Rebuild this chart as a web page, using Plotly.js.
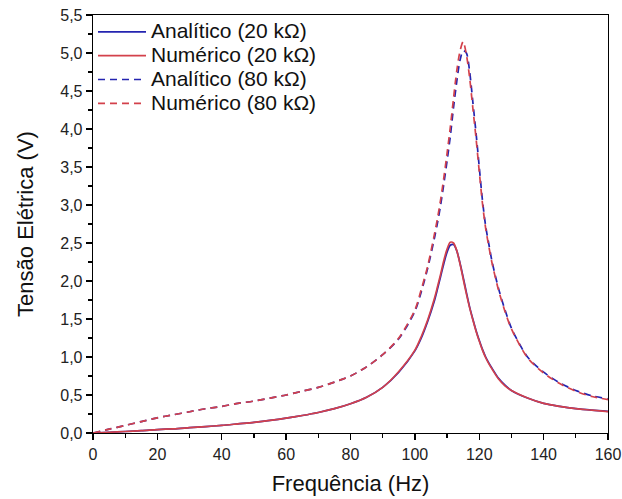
<!DOCTYPE html>
<html><head><meta charset="utf-8">
<script src="https://cdn.plot.ly/plotly-3.0.1.min.js"></script>
<style>html,body{margin:0;padding:0;background:#fff}#c{width:622px;height:499px}</style>
</head><body><div id="c"></div>
<script>
const freq = [0,5,10,15,20,25,30,35,40,45,50,55,60,65,70,75,80,85,90,95,100,102,104,106,107,108,109,110,111,112,113,114,115,116,117,118,119,120,121,122,123,124,126,128,130,135,140,145,150,155,160];
const analitico20 = [0,0.01,0.02,0.03,0.045,0.055,0.07,0.085,0.10,0.12,0.14,0.165,0.195,0.23,0.27,0.32,0.385,0.47,0.60,0.80,1.08,1.25,1.47,1.73,1.89,2.06,2.23,2.38,2.47,2.48,2.40,2.24,2.05,1.85,1.66,1.50,1.35,1.22,1.10,1.00,0.92,0.85,0.72,0.63,0.56,0.46,0.39,0.35,0.32,0.30,0.285];
const numerico20 = [0,0.01,0.02,0.03,0.045,0.055,0.07,0.085,0.10,0.12,0.14,0.165,0.195,0.23,0.27,0.32,0.385,0.47,0.60,0.81,1.09,1.27,1.49,1.76,1.92,2.09,2.27,2.42,2.51,2.50,2.40,2.23,2.03,1.83,1.65,1.49,1.34,1.21,1.09,0.99,0.91,0.84,0.71,0.62,0.56,0.46,0.39,0.35,0.32,0.30,0.28];
const analitico80 = [0,0.05,0.10,0.15,0.20,0.24,0.28,0.32,0.35,0.39,0.42,0.46,0.50,0.55,0.60,0.67,0.75,0.87,1.03,1.24,1.60,1.86,2.17,2.55,2.76,3.0,3.28,3.58,3.9,4.28,4.62,4.9,5.03,5.0,4.76,4.36,3.95,3.5,3.06,2.72,2.48,2.25,1.9,1.62,1.38,1.0,0.8,0.66,0.56,0.49,0.45];
const numerico80 = [0,0.05,0.10,0.15,0.20,0.24,0.28,0.32,0.35,0.39,0.42,0.46,0.50,0.55,0.60,0.67,0.75,0.87,1.03,1.25,1.62,1.89,2.20,2.60,2.82,3.07,3.36,3.68,4.02,4.40,4.76,5.02,5.15,4.98,4.68,4.28,3.88,3.44,3.02,2.69,2.45,2.23,1.88,1.60,1.37,0.99,0.79,0.65,0.55,0.48,0.44];
const names = ["Analítico (20 kΩ)","Numérico (20 kΩ)","Analítico (80 kΩ)","Numérico (80 kΩ)"];
const blue = "#2424b0", red = "#d3414b";
const dashP = "7px,5px";
const lbl = s => '<span style="font-size:21px">' + s + '</span>';
const traces = [
  {x:freq,y:analitico20,name:lbl(names[0]),mode:"lines",line:{color:blue,width:1.7,shape:"spline",smoothing:0.8}},
  {x:freq,y:numerico20,name:lbl(names[1]),mode:"lines",line:{color:red,width:1.7,shape:"spline",smoothing:0.8}},
  {x:freq,y:analitico80,name:lbl(names[2]),mode:"lines",line:{color:blue,width:1.7,dash:dashP,shape:"spline",smoothing:0.8}},
  {x:freq,y:numerico80,name:lbl(names[3]),mode:"lines",line:{color:red,width:1.7,dash:dashP,shape:"spline",smoothing:0.8}}
];
const ff = "Liberation Sans, Arial, sans-serif";
const layout = {
  width:622,height:499,
  margin:{l:93,r:14,t:15,b:66},
  paper_bgcolor:"#fff",plot_bgcolor:"#fff",
  separators:", ",
  font:{family:ff,color:"#111"},
  showlegend:true,
  legend:{x:0.0,y:1.0,xanchor:"left",yanchor:"top",bgcolor:"rgba(0,0,0,0)",font:{size:16,family:ff,color:"#111"},tracegroupgap:0,itemwidth:48,borderwidth:0},
  xaxis:{range:[0,160],tick0:0,dtick:20,ticks:"outside",ticklen:6,tickwidth:1.3,tickcolor:"#000",
    showline:true,linecolor:"#000",linewidth:1.3,mirror:true,showgrid:false,zeroline:false,
    tickfont:{size:16,family:ff,color:"#222"},
    minor:{dtick:10,ticks:"outside",ticklen:4,tickcolor:"#000",showgrid:false},
    title:{text:"Frequência (Hz)",font:{size:22,family:ff,color:"#111"},standoff:14}},
  yaxis:{range:[0,5.5],tick0:0,dtick:0.5,tickformat:".1f",ticks:"outside",ticklen:6,tickwidth:1.3,tickcolor:"#000",
    showline:true,linecolor:"#000",linewidth:1.3,mirror:true,showgrid:false,zeroline:false,
    tickfont:{size:16,family:ff,color:"#222"},
    minor:{dtick:0.25,ticks:"outside",ticklen:4,tickcolor:"#000",showgrid:false},
    title:{text:"Tensão Elétrica (V)",font:{size:22,family:ff,color:"#111"},standoff:20}}
};
Plotly.newPlot("c",traces,layout,{displayModeBar:false,staticPlot:true});
</script></body></html>
